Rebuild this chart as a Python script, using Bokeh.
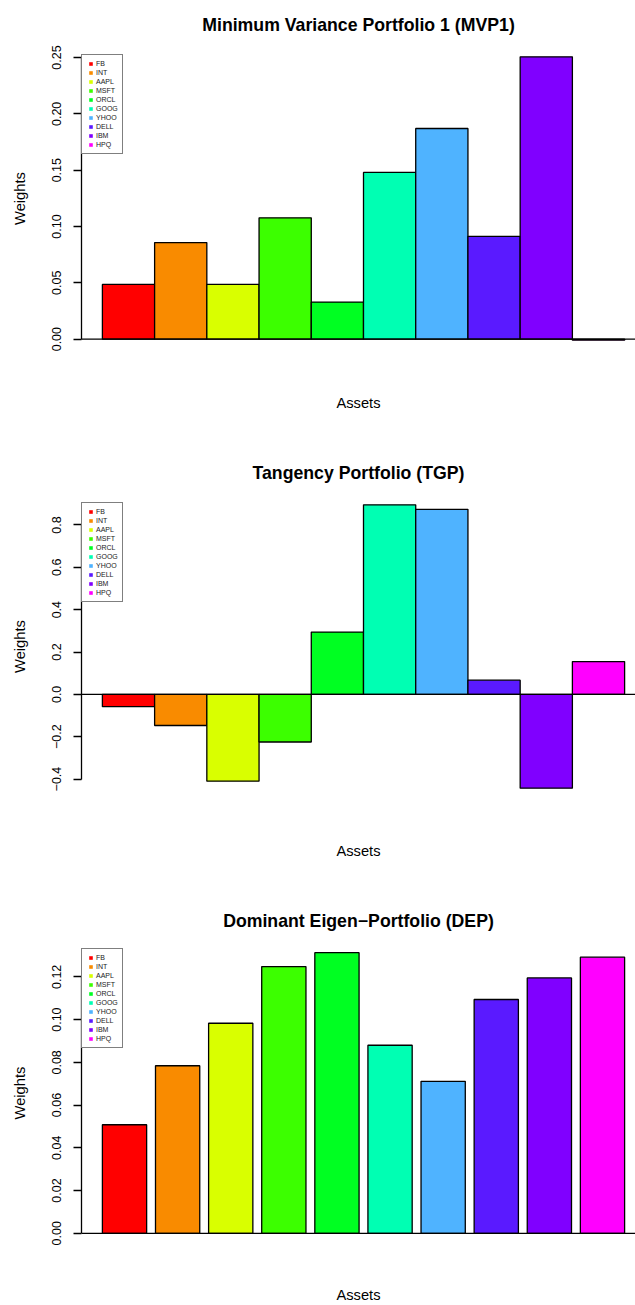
import math
from bokeh.plotting import figure
from bokeh.models import Range1d, FixedTicker, Span, Legend, LegendItem, ColumnDataSource
from bokeh.layouts import column
from bokeh.embed import file_html
from bokeh.resources import INLINE

# ---------------- data ----------------
assets = ["FB", "INT", "AAPL", "MSFT", "ORCL", "GOOG", "YHOO", "DELL", "IBM", "HPQ"]
colors = ["#FF0000", "#F98B00", "#D9FF00", "#3CFF00", "#00FF22",
          "#00FFB3", "#4FB3FF", "#5A1AFF", "#8000FF", "#FF00FF"]

mvp1_weights = [0.0486, 0.0857, 0.0486, 0.1077, 0.0329, 0.1480, 0.1870, 0.0913, 0.2506, -0.0009]
tgp_weights = [-0.058, -0.147, -0.410, -0.225, 0.294, 0.895, 0.874, 0.067, -0.443, 0.155]
dep_weights = [0.0508, 0.0784, 0.0983, 0.1248, 0.1313, 0.0880, 0.0711, 0.1094, 0.1195, 0.1292]

mvp1_ticks = [0.0, 0.05, 0.10, 0.15, 0.20, 0.25]
mvp1_tick_labels = ["0.00", "0.05", "0.10", "0.15", "0.20", "0.25"]
tgp_ticks = [-0.4, -0.2, 0.0, 0.2, 0.4, 0.6, 0.8]
tgp_tick_labels = ["\u22120.4", "\u22120.2", "0.0", "0.2", "0.4", "0.6", "0.8"]
dep_ticks = [0.0, 0.02, 0.04, 0.06, 0.08, 0.10, 0.12]
dep_tick_labels = ["0.00", "0.02", "0.04", "0.06", "0.08", "0.10", "0.12"]

titles = ["Minimum Variance Portfolio 1 (MVP1)",
          "Tangency Portfolio (TGP)",
          "Dominant Eigen\u2212Portfolio (DEP)"]

FONT = "Liberation Sans"
FIG_W = 635
LEFT = 81
TOP = 45
FRAME_W = FIG_W - LEFT
R_FRAME_W = 564  # width the full R plot region would have (cropped at right)
LEG_ROW = 9
LEG_PAD = 4


def panel(title, weights, ticks, tick_labels, space, height, frame_h, xlab_standoff):
    n = len(weights)
    lefts = [space + i * (1 + space) for i in range(n)]
    centers = [l + 0.5 for l in lefts]
    xmin, xmax = min(lefts), max(lefts) + 1
    xext = 0.04 * (xmax - xmin)
    x0 = xmin - xext
    x1 = x0 + (xmax + xext - x0) * FRAME_W / R_FRAME_W
    ymin, ymax = min(0, min(weights)), max(0, max(weights))
    yext = 0.04 * (ymax - ymin)
    y0, y1 = ymin - yext, ymax + yext

    p = figure(width=FIG_W, height=height, output_backend="svg", toolbar_location=None,
               x_range=Range1d(x0, x1), y_range=Range1d(y0, y1),
               min_border_left=LEFT, min_border_right=0, min_border_top=TOP,
               min_border_bottom=height - TOP - frame_h)
    p.outline_line_color = None
    p.xgrid.visible = False
    p.ygrid.visible = False

    p.title.text = title
    p.title.align = "center"
    p.title.vertical_align = "top"
    p.title.text_font = FONT
    p.title.text_font_size = "17.7px"
    p.title.text_font_style = "bold"
    p.title.text_color = "black"
    p.title.standoff = 18

    src = ColumnDataSource(dict(x=centers, top=weights, color=colors, asset=assets))
    p.vbar(x="x", top="top", bottom=0, width=1, source=src,
           fill_color="color", line_color="black", line_width=1.3)
    p.add_layout(Span(location=0, dimension="width", line_color="black", line_width=1.3))

    ya = p.yaxis[0]
    ya.ticker = FixedTicker(ticks=ticks)
    ya.major_label_overrides = {t: l for t, l in zip(ticks, tick_labels)}
    ya.bounds = (min(ticks), max(ticks))
    ya.major_label_orientation = "vertical"
    ya.major_tick_out = 8
    ya.major_tick_in = 0
    ya.minor_tick_line_color = None
    ya.axis_line_width = 1.3
    ya.major_tick_line_width = 1.3
    ya.major_label_standoff = 12
    ya.major_label_text_font = FONT
    ya.major_label_text_font_size = "12.5px"
    ya.major_label_text_color = "black"
    ya.axis_label = "Weights"
    ya.axis_label_text_font = FONT
    ya.axis_label_text_font_size = "14.7px"
    ya.axis_label_text_font_style = "normal"
    ya.axis_label_text_color = "black"
    ya.axis_label_standoff = 22

    xa = p.xaxis[0]
    xa.ticker = FixedTicker(ticks=[])
    xa.axis_line_color = None
    xa.major_tick_line_color = None
    xa.minor_tick_line_color = None
    xa.major_tick_out = 0
    xa.major_label_standoff = 0
    xa.axis_label = "Assets"
    xa.axis_label_text_font = FONT
    xa.axis_label_text_font_size = "14.7px"
    xa.axis_label_text_font_style = "normal"
    xa.axis_label_text_color = "black"
    xa.axis_label_standoff = xlab_standoff

    # legend carrier (legend draws its own square size)
    sq = p.scatter(x="x", y="top", marker="square", size=0, source=src,
                   fill_color="color", line_color=None)
    items = [LegendItem(label=a, renderers=[sq], index=i) for i, a in enumerate(assets)]
    leg_h = n * LEG_ROW + 2 * LEG_PAD
    vy = frame_h * (max(weights) - y0) / (y1 - y0) - leg_h
    leg = Legend(items=items, location=(0, vy), orientation="vertical",
                 padding=LEG_PAD, spacing=0, margin=0,
                 glyph_width=9, glyph_height=LEG_ROW, label_height=LEG_ROW,
                 label_width=20, label_standoff=1,
                 label_text_font=FONT, label_text_font_size="7px",
                 label_text_color="#222222",
                 border_line_color="black", border_line_width=1.3,
                 background_fill_color="white", background_fill_alpha=1.0)
    p.add_layout(leg)
    return p


p1 = panel(titles[0], mvp1_weights, mvp1_ticks, mvp1_tick_labels, 0.0, 448, 306, 43)
p2 = panel(titles[1], tgp_weights, tgp_ticks, tgp_tick_labels, 0.0, 448, 306, 43)
p3 = panel(titles[2], dep_weights, dep_ticks, dep_tick_labels, 0.2, 409, 305, 42)

layout = column(p1, p2, p3, spacing=0)
open("out.html", "w").write(file_html(layout, INLINE))
